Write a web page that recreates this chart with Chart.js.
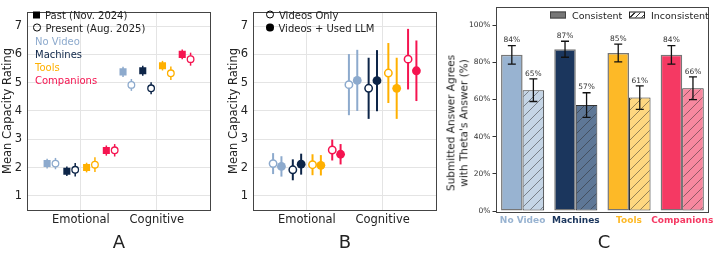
<!DOCTYPE html>
<html>
<head>
<meta charset="utf-8">
<script src="https://cdn.jsdelivr.net/npm/chart.js@4.4.1/dist/chart.umd.min.js"></script>
<style>
  body { margin: 0; background: #fff; }
  #wrap { position: relative; width: 718px; height: 255px; font-family: 'DejaVu Sans', sans-serif; color: #222; }
  canvas { position: absolute; top: 0; }
  .abs { position: absolute; white-space: nowrap; }
  .leg { position: absolute; font-size: 10px; line-height: 13px; white-space: nowrap; transform: translateY(-50%); }
  .letter { position: absolute; font-size: 18px; transform: translate(-50%, -50%); }
  .sq { display: inline-block; width: 7px; height: 7px; background: #000; margin-right: 5px; }
  .ci { display: inline-block; width: 5px; height: 5px; border: 1.3px solid #000; border-radius: 50%; margin-right: 5px; box-sizing: content-box; }
  .cf { display: inline-block; width: 7.5px; height: 7.5px; background: #000; border-radius: 50%; margin-right: 5px; }
</style>
</head>
<body>
<div id="wrap">
  <canvas id="chartA" width="216" height="232" style="left:0"></canvas>
  <canvas id="chartB" width="216" height="232" style="left:226px"></canvas>
  <canvas id="chartC" width="258" height="232" style="left:460px"></canvas>

  <div class="leg" style="left:33px;top:14.7px"><span class="sq"></span>Past (Nov. 2024)</div>
  <div class="leg" style="left:33px;top:27.7px"><span class="ci" style="width:5.5px;height:5.5px"></span>Present (Aug. 2025)</div>
  <div class="leg" style="left:35px;top:40.7px;color:#8daacd">No Video</div>
  <div class="leg" style="left:35px;top:53.7px;color:#0d2548">Machines</div>
  <div class="leg" style="left:35px;top:66.7px;color:#ffb000">Tools</div>
  <div class="leg" style="left:35px;top:79.7px;color:#f51450">Companions</div>

  <div class="leg" style="left:266px;top:14.7px"><span class="ci" style="width:6px;height:6px"></span>Videos Only</div>
  <div class="leg" style="left:266px;top:27.7px"><span class="cf"></span>Videos + Used LLM</div>

  <div class="leg" style="left:550px;top:14.7px;font-size:9.5px"><span style="display:inline-block;width:14px;height:5px;background:#777;border:1px solid #444;margin-right:6px"></span>Consistent</div>
  <div class="leg" style="left:629px;top:14.7px;font-size:9.5px"><span style="display:inline-block;width:14px;height:5px;border:1px solid #222;margin-right:6px;background:repeating-linear-gradient(135deg,#fff 0,#fff 3px,#333 3px,#333 4px)"></span>Inconsistent</div>

  <div class="abs" style="left:457px;top:123px;transform:translate(-50%,-50%) rotate(-90deg);text-align:center;font-size:10.5px;line-height:12.6px">Submitted Answer Agrees<br>with Theta's Answer (%)</div>

  <div class="letter" style="left:119px;top:240.7px">A</div>
  <div class="letter" style="left:345px;top:240.7px">B</div>
  <div class="letter" style="left:604px;top:240.7px">C</div>
</div>

<script>
// 共通データ
const categories = ['Emotional', 'Cognitive'];
const groups = ['No Video', 'Machines', 'Tools', 'Companions'];
const groupColors = ['#8daacd', '#0d2548', '#ffb000', '#f51450'];
const ratingTicks = [1, 2, 3, 4, 5, 6, 7];

// A: 過去 vs 現在 (平均, 誤差) — index = group
const pastEmotional = [2.14, 1.87, 2.0, 2.6];
const pastEmotionalErr = [0.17, 0.17, 0.17, 0.18];
const pastCognitive = [5.38, 5.42, 5.6, 6.0];
const pastCognitiveErr = [0.18, 0.18, 0.17, 0.17];
const presentEmotional = [2.14, 1.92, 2.1, 2.61];
const presentEmotionalErr = [0.2, 0.24, 0.26, 0.22];
const presentCognitive = [4.92, 4.8, 5.33, 5.83];
const presentCognitiveErr = [0.21, 0.21, 0.24, 0.23];

// B: 動画のみ vs 動画 + LLM
const videosOnlyEmotional = [2.14, 1.92, 2.1, 2.62];
const videosOnlyEmotionalErr = [0.37, 0.37, 0.37, 0.37];
const videosOnlyCognitive = [4.93, 4.8, 5.34, 5.83];
const videosOnlyCognitiveErr = [1.08, 1.08, 1.06, 1.07];
const usedLlmEmotional = [2.04, 2.12, 2.08, 2.47];
const usedLlmEmotionalErr = [0.36, 0.37, 0.36, 0.36];
const usedLlmCognitive = [5.08, 5.07, 4.8, 5.42];
const usedLlmCognitiveErr = [1.08, 1.08, 1.08, 1.07];

// C: 一致 / 不一致 (%)
const consistent = [84, 87, 85, 84];
const consistentErr = [5, 4.3, 4.8, 5];
const inconsistent = [65, 57, 61, 66];
const inconsistentErr = [6.1, 6.6, 6.3, 6.1];
const consistentColors = ['#98b3d1', '#1b365d', '#fdb927', '#f53963'];
const inconsistentColors = ['#c5d5e6', '#5e7796', '#fed780', '#f7889f'];
const pctTicks = [0, 20, 40, 60, 80, 100];

Chart.defaults.font.family = "'DejaVu Sans', sans-serif";
Chart.defaults.color = '#222';

// グループ内の配置 (カテゴリ単位)
const groupStep = 0.26;
const pairStep = 0.11;

function xPos(ci, gi, k) {
  return ci + (gi - 1.5) * groupStep + (k - 0.5) * pairStep;
}

function buildPoints(gi, k, emo, emoErr, cog, cogErr) {
  return [
    { x: xPos(0, gi, k), y: emo[gi], err: emoErr[gi] },
    { x: xPos(1, gi, k), y: cog[gi], err: cogErr[gi] }
  ];
}

// 枠線
const framePlugin = {
  id: 'frame',
  afterDraw(chart) {
    const { ctx, chartArea: a } = chart;
    ctx.save();
    ctx.strokeStyle = '#444';
    ctx.lineWidth = 1;
    ctx.strokeRect(Math.round(a.left) + 0.5, Math.round(a.top) + 0.5,
      Math.round(a.right - a.left) - 1, Math.round(a.bottom - a.top));
    ctx.restore();
  }
};

// 点の誤差線 (マーカーの下に描く)
const pointErrorPlugin = {
  id: 'pointErrors',
  beforeDatasetsDraw(chart) {
    const { ctx } = chart;
    const y = chart.scales.y;
    chart.data.datasets.forEach((ds, di) => {
      const meta = chart.getDatasetMeta(di);
      meta.data.forEach((pt, i) => {
        const d = ds.data[i];
        ctx.save();
        ctx.strokeStyle = ds.errorColor;
        ctx.lineWidth = ds.errorWidth;
        ctx.beginPath();
        ctx.moveTo(pt.x, y.getPixelForValue(d.y + d.err));
        ctx.lineTo(pt.x, y.getPixelForValue(d.y - d.err));
        ctx.stroke();
        ctx.restore();
      });
    });
  }
};

function ratingOptions(padRight) {
  return {
    responsive: false,
    animation: false,
    layout: { padding: { left: 0, right: padRight, top: 4, bottom: 0 } },
    plugins: { legend: { display: false }, tooltip: { enabled: false } },
    scales: {
      x: {
        type: 'linear', min: -0.71, max: 1.71,
        afterBuildTicks: s => { s.ticks = categories.map((_, i) => ({ value: i })); },
        afterFit: s => { s.height = 22; },
        ticks: { callback: v => categories[v], font: { size: 11.5 }, color: '#222', padding: 3, maxRotation: 0, autoSkip: false },
        grid: { color: '#e4e4e4', drawTicks: false },
        border: { display: false }
      },
      y: {
        min: 0.5, max: 7.5,
        afterBuildTicks: s => { s.ticks = ratingTicks.map(v => ({ value: v })); },
        afterFit: s => { s.width = 27; },
        ticks: { font: { size: 11.5 }, color: '#222', padding: 5 },
        grid: { color: '#e4e4e4', drawTicks: false },
        border: { display: false },
        title: { display: true, text: 'Mean Capacity Rating', font: { size: 11.5 }, color: '#222', padding: { top: 1, bottom: 0 } }
      }
    }
  };
}

// --- A ---
const datasetsA = [];
groups.forEach((g, gi) => {
  const c = groupColors[gi];
  datasetsA.push({
    label: g + ' past',
    data: buildPoints(gi, 0, pastEmotional, pastEmotionalErr, pastCognitive, pastCognitiveErr),
    pointStyle: 'rect', pointRadius: 5, pointBackgroundColor: c, pointBorderWidth: 0,
    errorColor: c, errorWidth: 1.5
  });
  datasetsA.push({
    label: g + ' present',
    data: buildPoints(gi, 1, presentEmotional, presentEmotionalErr, presentCognitive, presentCognitiveErr),
    pointStyle: 'circle', pointRadius: 3.3, pointBackgroundColor: '#fff', pointBorderColor: c, pointBorderWidth: 1.3,
    errorColor: c, errorWidth: 1.5
  });
});

new Chart(document.getElementById('chartA'), {
  type: 'scatter',
  data: { datasets: datasetsA },
  options: ratingOptions(5),
  plugins: [pointErrorPlugin, framePlugin]
});

// --- B ---
const datasetsB = [];
groups.forEach((g, gi) => {
  const c = groupColors[gi];
  datasetsB.push({
    label: g + ' videos only',
    data: buildPoints(gi, 0, videosOnlyEmotional, videosOnlyEmotionalErr, videosOnlyCognitive, videosOnlyCognitiveErr),
    pointStyle: 'circle', pointRadius: 3.7, pointBackgroundColor: '#fff', pointBorderColor: c, pointBorderWidth: 1.5,
    errorColor: c, errorWidth: 2
  });
  datasetsB.push({
    label: g + ' used LLM',
    data: buildPoints(gi, 1, usedLlmEmotional, usedLlmEmotionalErr, usedLlmCognitive, usedLlmCognitiveErr),
    pointStyle: 'circle', pointRadius: 4.4, pointBackgroundColor: c, pointBorderWidth: 0,
    errorColor: c, errorWidth: 2
  });
});

new Chart(document.getElementById('chartB'), {
  type: 'scatter',
  data: { datasets: datasetsB },
  options: ratingOptions(4.5),
  plugins: [pointErrorPlugin, framePlugin]
});

// --- C ---
function makeHatch(fill) {
  const s = 10;
  const c = document.createElement('canvas');
  c.width = s; c.height = s;
  const g = c.getContext('2d');
  g.fillStyle = fill;
  g.fillRect(0, 0, s, s);
  g.strokeStyle = 'rgba(40,40,40,0.55)';
  g.lineWidth = 0.9;
  g.beginPath();
  g.moveTo(0, s); g.lineTo(s, 0);
  g.moveTo(-1, 1); g.lineTo(1, -1);
  g.moveTo(s - 1, s + 1); g.lineTo(s + 1, s - 1);
  g.stroke();
  return g.createPattern(c, 'repeat');
}

// 誤差線とラベル
const barErrorPlugin = {
  id: 'barErrors',
  afterDatasetsDraw(chart) {
    const { ctx } = chart;
    const y = chart.scales.y;
    chart.data.datasets.forEach((ds, di) => {
      const meta = chart.getDatasetMeta(di);
      meta.data.forEach((bar, i) => {
        const v = ds.data[i], e = ds.err[i];
        const yt = y.getPixelForValue(v + e), yb = y.getPixelForValue(v - e);
        ctx.save();
        ctx.strokeStyle = '#111';
        ctx.lineWidth = 1.3;
        ctx.beginPath();
        ctx.moveTo(bar.x, yt); ctx.lineTo(bar.x, yb);
        ctx.moveTo(bar.x - 4, yt); ctx.lineTo(bar.x + 4, yt);
        ctx.moveTo(bar.x - 4, yb); ctx.lineTo(bar.x + 4, yb);
        ctx.stroke();
        ctx.fillStyle = '#333';
        ctx.font = "7.5px 'DejaVu Sans'";
        ctx.textAlign = 'center';
        ctx.textBaseline = 'bottom';
        ctx.fillText(Math.round(v) + '%', bar.x, yt - 1.5);
        ctx.restore();
      });
    });
  }
};

new Chart(document.getElementById('chartC'), {
  type: 'bar',
  data: {
    labels: groups,
    datasets: [
      {
        label: 'Consistent', data: consistent, err: consistentErr,
        backgroundColor: consistentColors, borderColor: '#777', borderWidth: 1.5, borderSkipped: false,
        categoryPercentage: 0.81, barPercentage: 1
      },
      {
        label: 'Inconsistent', data: inconsistent, err: inconsistentErr,
        backgroundColor: inconsistentColors.map(makeHatch), borderColor: '#333', borderWidth: 1, borderSkipped: false,
        categoryPercentage: 0.81, barPercentage: 1
      }
    ]
  },
  options: {
    responsive: false,
    animation: false,
    layout: { padding: { left: 0, right: 6, top: 4.7, bottom: 0 } },
    plugins: { legend: { display: false }, tooltip: { enabled: false } },
    scales: {
      x: {
        afterFit: s => { s.height = 21; },
        ticks: { color: ctx => consistentColors[ctx.index], font: { size: 9, weight: 'bold' }, padding: 4, maxRotation: 0, autoSkip: false },
        grid: { display: false, drawTicks: false },
        border: { display: false }
      },
      y: {
        min: 0, max: 110,
        afterBuildTicks: s => { s.ticks = pctTicks.map(v => ({ value: v })); },
        afterFit: s => { s.width = 36; },
        ticks: { callback: v => v + '%', font: { size: 7.5 }, color: '#333', padding: 2 },
        grid: { drawOnChartArea: false, drawTicks: true, tickLength: 3.5, color: '#333' },
        border: { display: false }
      }
    }
  },
  plugins: [barErrorPlugin, framePlugin]
});
</script>
</body>
</html>
